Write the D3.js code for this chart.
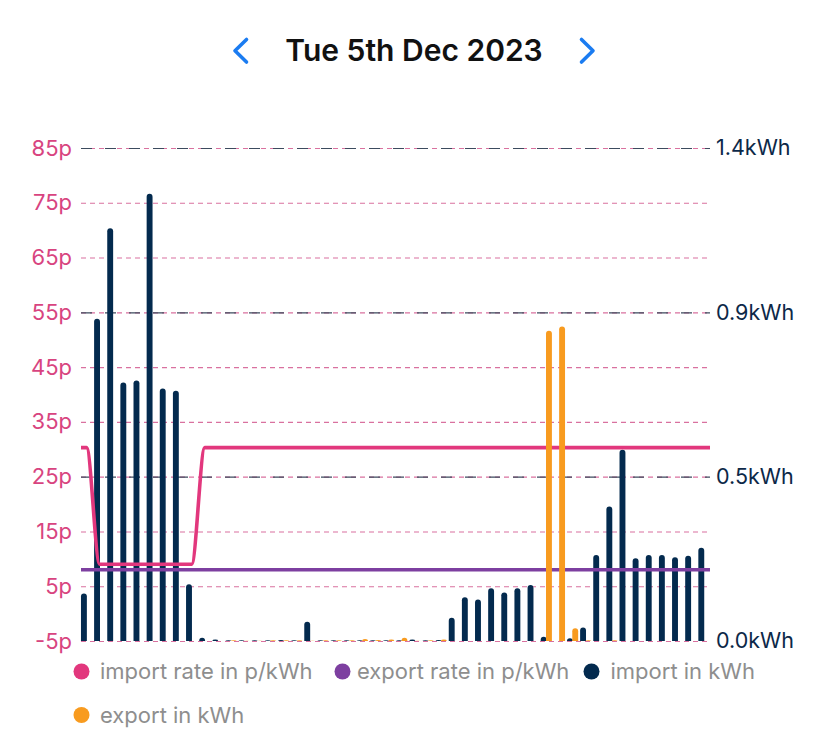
<!DOCTYPE html>
<html>
<head>
<meta charset="utf-8">
<script src="https://cdn.jsdelivr.net/npm/d3@7/dist/d3.min.js"></script>
<style>
  html, body { margin: 0; padding: 0; background: #ffffff; }
  svg { display: block; }
  text { font-family: Inter, "Noto Sans", "DejaVu Sans", sans-serif; }
</style>
</head>
<body>
<svg id="chart" width="828" height="744"></svg>
<script>
// ---------- DATA ----------
const titleText = "Tue 5th Dec 2023";
const slots = d3.range(48); // half-hour slots of the day

const importRate = [30.3, 9, 9, 9, 9, 9, 9, 9, 9,
  30.3, 30.3, 30.3, 30.3, 30.3, 30.3, 30.3, 30.3, 30.3, 30.3,
  30.3, 30.3, 30.3, 30.3, 30.3, 30.3, 30.3, 30.3, 30.3, 30.3,
  30.3, 30.3, 30.3, 30.3, 30.3, 30.3, 30.3, 30.3, 30.3, 30.3,
  30.3, 30.3, 30.3, 30.3, 30.3, 30.3, 30.3, 30.3, 30.3];
const exportRate = [8, 8, 8, 8, 8, 8, 8, 8, 8, 8, 8, 8, 8, 8, 8, 8,
  8, 8, 8, 8, 8, 8, 8, 8, 8, 8, 8, 8, 8, 8, 8, 8,
  8, 8, 8, 8, 8, 8, 8, 8, 8, 8, 8, 8, 8, 8, 8, 8];
const importKwh = [0.135, 0.915, 1.172, 0.734, 0.740, 1.270, 0.717, 0.711,
  0.161, 0.009, 0.004, 0.002, 0.002, 0.002, 0.002, 0.003,
  0.002, 0.055, 0.002, 0.002, 0.002, 0.002, 0.002, 0.002,
  0.002, 0.004, 0.002, 0.003, 0.066, 0.124, 0.118, 0.150,
  0.138, 0.150, 0.159, 0.012, 0.000, 0.008, 0.038, 0.244,
  0.382, 0.543, 0.235, 0.244, 0.244, 0.238, 0.242, 0.265];
const exportKwh = [0, 0, 0, 0, 0, 0, 0, 0,
  0, 0, 0, 0.002, 0.001, 0.001, 0.002, 0.002,
  0.002, 0.001, 0.002, 0.002, 0.002, 0.006, 0.003, 0.004,
  0.009, 0.001, 0.002, 0.004, 0, 0, 0, 0,
  0, 0, 0, 0.881, 0.893, 0.036, 0.002, 0,
  0.002, 0, 0, 0, 0, 0, 0, 0];

const leftTicks = [-5, 5, 15, 25, 35, 45, 55, 65, 75, 85];
const leftTickLabels = ["-5p", "5p", "15p", "25p", "35p", "45p", "55p", "65p", "75p", "85p"];
const rightTicks = [0, 1.4 / 3, 2.8 / 3, 1.4];
const rightTickLabels = ["0.0kWh", "0.5kWh", "0.9kWh", "1.4kWh"];

const legendLabels = ["import rate in p/kWh", "export rate in p/kWh", "import in kWh", "export in kWh"];

// ---------- STYLE ----------
const C = {
  importRate: "#e2377d",
  exportRate: "#7d3fa0",
  importBar: "#032a4e",
  exportBar: "#f89b1f",
  leftLabel: "#d8447f",
  rightLabel: "#0c2848",
  gridPink: "#d9719f",
  gridDark: "#3c4b5e",
  legendText: "#8e8e8e",
  chevron: "#1b7cf1",
  title: "#111111"
};

const svg = d3.select("#chart");
const plotL = 80, plotR = 710.5, plotTop = 148, plotBottom = 641;

const x = d3.scaleBand().domain(slots).range([plotL, plotR]).paddingInner(0).paddingOuter(0);
const yL = d3.scaleLinear().domain([-5, 85]).range([plotBottom, plotTop]);
const yR = d3.scaleLinear().domain([0, 1.4]).range([plotBottom, plotTop]);
const bw = 5.9;
const half = x.bandwidth() / 2;

// ---------- TITLE ----------
svg.append("text")
  .attr("x", 414).attr("y", 61)
  .attr("text-anchor", "middle")
  .attr("font-size", 30).attr("font-weight", 600)
  .attr("fill", C.title)
  .text(titleText);

svg.append("path").attr("d", "M246.5,39.5 L235,50.8 L246.5,62")
  .attr("fill", "none").attr("stroke", C.chevron).attr("stroke-width", 3.6)
  .attr("stroke-linecap", "round").attr("stroke-linejoin", "round");
svg.append("path").attr("d", "M581.5,39.5 L593,50.8 L581.5,62")
  .attr("fill", "none").attr("stroke", C.chevron).attr("stroke-width", 3.6)
  .attr("stroke-linecap", "round").attr("stroke-linejoin", "round");

// ---------- GRID ----------
const grid = svg.append("g");
grid.selectAll("line.pg").data(leftTicks).join("line")
  .attr("class", "pg")
  .attr("x1", 81).attr("x2", 710)
  .attr("y1", d => yL(d) + 0.5).attr("y2", d => yL(d) + 0.5)
  .attr("stroke", C.gridPink).attr("stroke-width", 1.1)
  .attr("stroke-dasharray", "5,4");
grid.selectAll("line.dg").data(rightTicks.filter(d => d > 0)).join("line")
  .attr("class", "dg")
  .attr("x1", 81).attr("x2", 710)
  .attr("y1", d => yR(d) + 0.5).attr("y2", d => yR(d) + 0.5)
  .attr("stroke", C.gridDark).attr("stroke-width", 1.1)
  .attr("stroke-dasharray", "11,13");

// ---------- AXES ----------
const axL = svg.append("g").attr("transform", `translate(81,0)`)
  .call(d3.axisLeft(yL).tickValues(leftTicks)
    .tickFormat((d, i) => leftTickLabels[i]).tickSize(0).tickPadding(9));
axL.select(".domain").remove();
axL.selectAll("text").attr("font-size", 22).attr("fill", C.leftLabel)
  .attr("font-family", "Inter, 'Noto Sans', sans-serif");

const axR = svg.append("g").attr("transform", `translate(710,0)`)
  .call(d3.axisRight(yR).tickValues(rightTicks)
    .tickFormat((d, i) => rightTickLabels[i]).tickSize(0).tickPadding(6));
axR.select(".domain").remove();
axR.selectAll("text").attr("font-size", 21.5).attr("fill", C.rightLabel)
  .attr("font-family", "Inter, 'Noto Sans', sans-serif");

// ---------- BARS ----------
function barPath(cx, v) {
  const y0 = yR(0), y1 = yR(v);
  const h = y0 - y1;
  if (h <= 0) return "";
  const l = cx - bw / 2, r = bw / 2;
  const ry = Math.min(r, h);
  return `M${l},${y0}V${y1 + ry}A${r},${ry} 0 0 1 ${l + bw},${y1 + ry}V${y0}Z`;
}

svg.append("g").selectAll("path").data(slots).join("path")
  .attr("d", i => barPath(x(i) + half - 2.65, importKwh[i]))
  .attr("fill", C.importBar);

// ---------- LINES ----------
function lineData(arr) {
  const pts = [{ px: 81, v: arr[0] }];
  slots.forEach(i => pts.push({ px: x(i) + half, v: arr[i] }));
  pts.push({ px: 710, v: arr[arr.length - 1] });
  return pts;
}
const line = d3.line().x(d => d.px).y(d => yL(d.v)).curve(d3.curveMonotoneX);

svg.append("path").datum(lineData(exportRate))
  .attr("d", line).attr("fill", "none")
  .attr("stroke", C.exportRate).attr("stroke-width", 3.6);
svg.append("path").datum(lineData(importRate))
  .attr("d", line).attr("fill", "none")
  .attr("stroke", C.importRate).attr("stroke-width", 3.6)
  .attr("stroke-linejoin", "round");

svg.append("g").selectAll("path").data(slots).join("path")
  .attr("d", i => barPath(x(i) + half + 2.65, exportKwh[i]))
  .attr("fill", C.exportBar);

// ---------- LEGEND ----------
const legendPos = [
  { dx: 81.5, tx: 100, y: 671.5 },
  { dx: 342.5, tx: 357, y: 671.5 },
  { dx: 591.5, tx: 610.5, y: 671.5 },
  { dx: 81.5, tx: 100, y: 715 }
];
const legendColors = [C.importRate, C.exportRate, C.importBar, C.exportBar];
const lg = svg.append("g").selectAll("g").data(legendLabels).join("g");
lg.append("circle")
  .attr("cx", (d, i) => legendPos[i].dx).attr("cy", (d, i) => legendPos[i].y)
  .attr("r", 8).attr("fill", (d, i) => legendColors[i]);
lg.append("text")
  .attr("x", (d, i) => legendPos[i].tx).attr("y", (d, i) => legendPos[i].y)
  .attr("dy", "0.35em").attr("font-size", 22).attr("fill", C.legendText)
  .text(d => d);
</script>
</body>
</html>
